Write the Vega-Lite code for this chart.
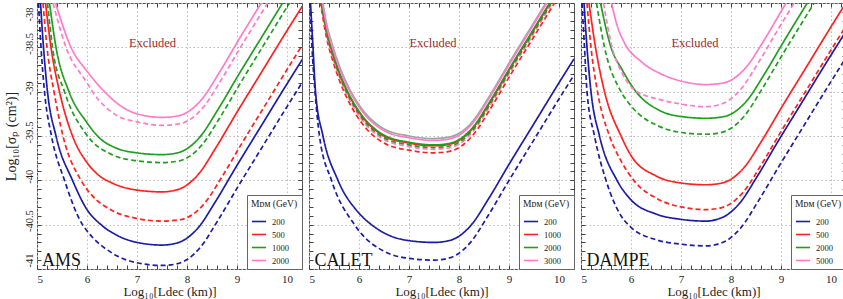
{
"$schema": "https://vega.github.io/schema/vega-lite/v6.json",
"padding": {"left": 3, "top": 2, "right": 0, "bottom": 0},
"background": "white",
"config": {
  "font": "Liberation Serif",
  "view": {"stroke": "#555", "strokeWidth": 1},
  "concat": {"spacing": 5},
  "axis": {"domain": false, "tickSize": -4, "tickColor": "#444", "labelFont": "Liberation Serif", "labelFontSize": 11, "labelColor": "#222", "titleFont": "Liberation Serif", "titleFontWeight": "normal", "titleColor": "#222", "gridColor": "#bbb", "gridDash": [1.5, 2.5], "labelOverlap": false, "minExtent": 0},
  "legend": {"orient": "bottom-right", "offset": 0, "padding": 4, "strokeColor": "#666", "fillColor": "white", "symbolType": "stroke", "symbolSize": 200, "symbolStrokeWidth": 1.6, "labelFont": "Liberation Serif", "labelFontSize": 8.5, "labelColor": "#222", "titleFont": "Liberation Serif", "titleFontSize": 9.5, "titleFontWeight": "normal", "titleColor": "#222", "titlePadding": 5, "rowPadding": 0, "labelOffset": 5}
},
"datasets": {
"ams": [
{"m":"200","d":"s","x":5.07,"y":-38},{"m":"200","d":"s","x":5.13,"y":-38.5},{"m":"200","d":"s","x":5.21,"y":-39},{"m":"200","d":"s","x":5.38,"y":-39.5},{"m":"200","d":"s","x":5.71,"y":-40},{"m":"200","d":"s","x":6,"y":-40.33},{"m":"200","d":"s","x":6.28,"y":-40.5},{"m":"200","d":"s","x":6.6,"y":-40.62},{"m":"200","d":"s","x":7,"y":-40.7},{"m":"200","d":"s","x":7.5,"y":-40.73},{"m":"200","d":"s","x":7.78,"y":-40.71},{"m":"200","d":"s","x":7.98,"y":-40.66},{"m":"200","d":"s","x":8.23,"y":-40.53},{"m":"200","d":"s","x":8.58,"y":-40.23},{"m":"200","d":"s","x":8.98,"y":-39.85},{"m":"200","d":"s","x":9.48,"y":-39.39},{"m":"200","d":"s","x":9.98,"y":-38.93},{"m":"200","d":"s","x":10.28,"y":-38.66},{"m":"200","d":"s","x":10.58,"y":-38.39},
{"m":"200","d":"d","x":5.03,"y":-38},{"m":"200","d":"d","x":5.08,"y":-38.5},{"m":"200","d":"d","x":5.15,"y":-39},{"m":"200","d":"d","x":5.29,"y":-39.5},{"m":"200","d":"d","x":5.55,"y":-40},{"m":"200","d":"d","x":5.91,"y":-40.5},{"m":"200","d":"d","x":6,"y":-40.57},{"m":"200","d":"d","x":6.5,"y":-40.82},{"m":"200","d":"d","x":7,"y":-40.93},{"m":"200","d":"d","x":7.5,"y":-40.96},{"m":"200","d":"d","x":7.81,"y":-40.94},{"m":"200","d":"d","x":8.01,"y":-40.89},{"m":"200","d":"d","x":8.26,"y":-40.76},{"m":"200","d":"d","x":8.61,"y":-40.46},{"m":"200","d":"d","x":9.01,"y":-40.08},{"m":"200","d":"d","x":9.51,"y":-39.62},{"m":"200","d":"d","x":10.01,"y":-39.16},{"m":"200","d":"d","x":10.31,"y":-38.89},
{"m":"500","d":"s","x":5.17,"y":-38},{"m":"500","d":"s","x":5.28,"y":-38.5},{"m":"500","d":"s","x":5.45,"y":-39},{"m":"500","d":"s","x":5.71,"y":-39.5},{"m":"500","d":"s","x":6,"y":-39.8},{"m":"500","d":"s","x":6.25,"y":-39.95},{"m":"500","d":"s","x":6.5,"y":-40.03},{"m":"500","d":"s","x":7,"y":-40.11},{"m":"500","d":"s","x":7.5,"y":-40.13},{"m":"500","d":"s","x":7.78,"y":-40.11},{"m":"500","d":"s","x":7.98,"y":-40.06},{"m":"500","d":"s","x":8.23,"y":-39.93},{"m":"500","d":"s","x":8.58,"y":-39.63},{"m":"500","d":"s","x":8.98,"y":-39.25},{"m":"500","d":"s","x":9.48,"y":-38.79},{"m":"500","d":"s","x":9.98,"y":-38.33},{"m":"500","d":"s","x":10.28,"y":-38.06},{"m":"500","d":"s","x":10.58,"y":-37.79},
{"m":"500","d":"d","x":5.12,"y":-38},{"m":"500","d":"d","x":5.2,"y":-38.5},{"m":"500","d":"d","x":5.34,"y":-39},{"m":"500","d":"d","x":5.52,"y":-39.5},{"m":"500","d":"d","x":5.88,"y":-40},{"m":"500","d":"d","x":6.1,"y":-40.17},{"m":"500","d":"d","x":6.5,"y":-40.34},{"m":"500","d":"d","x":7,"y":-40.43},{"m":"500","d":"d","x":7.5,"y":-40.46},{"m":"500","d":"d","x":7.9,"y":-40.44},{"m":"500","d":"d","x":8.1,"y":-40.39},{"m":"500","d":"d","x":8.35,"y":-40.26},{"m":"500","d":"d","x":8.7,"y":-39.96},{"m":"500","d":"d","x":9.1,"y":-39.58},{"m":"500","d":"d","x":9.6,"y":-39.12},{"m":"500","d":"d","x":10.1,"y":-38.66},{"m":"500","d":"d","x":10.4,"y":-38.39},
{"m":"1000","d":"s","x":5.25,"y":-38},{"m":"1000","d":"s","x":5.38,"y":-38.5},{"m":"1000","d":"s","x":5.64,"y":-39},{"m":"1000","d":"s","x":6,"y":-39.35},{"m":"1000","d":"s","x":6.21,"y":-39.5},{"m":"1000","d":"s","x":6.6,"y":-39.64},{"m":"1000","d":"s","x":7,"y":-39.69},{"m":"1000","d":"s","x":7.5,"y":-39.71},{"m":"1000","d":"s","x":7.81,"y":-39.69},{"m":"1000","d":"s","x":8.01,"y":-39.64},{"m":"1000","d":"s","x":8.26,"y":-39.51},{"m":"1000","d":"s","x":8.61,"y":-39.21},{"m":"1000","d":"s","x":9.01,"y":-38.83},{"m":"1000","d":"s","x":9.51,"y":-38.37},{"m":"1000","d":"s","x":10.01,"y":-37.91},
{"m":"1000","d":"d","x":5.21,"y":-38},{"m":"1000","d":"d","x":5.31,"y":-38.5},{"m":"1000","d":"d","x":5.55,"y":-39},{"m":"1000","d":"d","x":6.01,"y":-39.5},{"m":"1000","d":"d","x":6.5,"y":-39.71},{"m":"1000","d":"d","x":7,"y":-39.78},{"m":"1000","d":"d","x":7.5,"y":-39.8},{"m":"1000","d":"d","x":7.85,"y":-39.78},{"m":"1000","d":"d","x":8.05,"y":-39.73},{"m":"1000","d":"d","x":8.3,"y":-39.6},{"m":"1000","d":"d","x":8.65,"y":-39.3},{"m":"1000","d":"d","x":9.05,"y":-38.92},{"m":"1000","d":"d","x":9.55,"y":-38.46},{"m":"1000","d":"d","x":10.05,"y":-38},{"m":"1000","d":"d","x":10.35,"y":-37.73},
{"m":"2000","d":"s","x":5.37,"y":-38},{"m":"2000","d":"s","x":5.68,"y":-38.5},{"m":"2000","d":"s","x":6,"y":-38.77},{"m":"2000","d":"s","x":6.35,"y":-39},{"m":"2000","d":"s","x":6.6,"y":-39.13},{"m":"2000","d":"s","x":7,"y":-39.25},{"m":"2000","d":"s","x":7.5,"y":-39.29},{"m":"2000","d":"s","x":7.84,"y":-39.27},{"m":"2000","d":"s","x":8.04,"y":-39.22},{"m":"2000","d":"s","x":8.29,"y":-39.09},{"m":"2000","d":"s","x":8.64,"y":-38.79},{"m":"2000","d":"s","x":9.04,"y":-38.41},{"m":"2000","d":"s","x":9.54,"y":-37.95},
{"m":"2000","d":"d","x":5.32,"y":-38},{"m":"2000","d":"d","x":5.58,"y":-38.5},{"m":"2000","d":"d","x":6,"y":-38.9},{"m":"2000","d":"d","x":6.11,"y":-39},{"m":"2000","d":"d","x":6.6,"y":-39.27},{"m":"2000","d":"d","x":7,"y":-39.34},{"m":"2000","d":"d","x":7.5,"y":-39.38},{"m":"2000","d":"d","x":7.87,"y":-39.36},{"m":"2000","d":"d","x":8.07,"y":-39.31},{"m":"2000","d":"d","x":8.32,"y":-39.18},{"m":"2000","d":"d","x":8.67,"y":-38.88},{"m":"2000","d":"d","x":9.07,"y":-38.5},{"m":"2000","d":"d","x":9.57,"y":-38.04},{"m":"2000","d":"d","x":10.07,"y":-37.58}
],
"calet": [
{"m":"200","d":"s","x":5.03,"y":-38},{"m":"200","d":"s","x":5.08,"y":-38.5},{"m":"200","d":"s","x":5.13,"y":-39},{"m":"200","d":"s","x":5.28,"y":-39.5},{"m":"200","d":"s","x":5.58,"y":-40},{"m":"200","d":"s","x":6,"y":-40.37},{"m":"200","d":"s","x":6.25,"y":-40.5},{"m":"200","d":"s","x":6.6,"y":-40.62},{"m":"200","d":"s","x":7,"y":-40.68},{"m":"200","d":"s","x":7.5,"y":-40.7},{"m":"200","d":"s","x":7.8,"y":-40.68},{"m":"200","d":"s","x":8,"y":-40.63},{"m":"200","d":"s","x":8.25,"y":-40.5},{"m":"200","d":"s","x":8.6,"y":-40.2},{"m":"200","d":"s","x":9,"y":-39.82},{"m":"200","d":"s","x":9.5,"y":-39.36},{"m":"200","d":"s","x":10,"y":-38.9},{"m":"200","d":"s","x":10.3,"y":-38.63},
{"m":"200","d":"d","x":5.02,"y":-38},{"m":"200","d":"d","x":5.06,"y":-38.5},{"m":"200","d":"d","x":5.12,"y":-39},{"m":"200","d":"d","x":5.21,"y":-39.5},{"m":"200","d":"d","x":5.45,"y":-40},{"m":"200","d":"d","x":5.91,"y":-40.5},{"m":"200","d":"d","x":6,"y":-40.57},{"m":"200","d":"d","x":6.5,"y":-40.8},{"m":"200","d":"d","x":7,"y":-40.88},{"m":"200","d":"d","x":7.5,"y":-40.9},{"m":"200","d":"d","x":7.78,"y":-40.88},{"m":"200","d":"d","x":7.98,"y":-40.83},{"m":"200","d":"d","x":8.23,"y":-40.7},{"m":"200","d":"d","x":8.58,"y":-40.4},{"m":"200","d":"d","x":8.98,"y":-40.02},{"m":"200","d":"d","x":9.48,"y":-39.56},{"m":"200","d":"d","x":9.98,"y":-39.1},{"m":"200","d":"d","x":10.28,"y":-38.83},{"m":"200","d":"d","x":10.58,"y":-38.56},
{"m":"1000","d":"d","x":5.2,"y":-37.89},{"m":"1000","d":"d","x":5.27,"y":-38.14},{"m":"1000","d":"d","x":5.35,"y":-38.39},{"m":"1000","d":"d","x":5.47,"y":-38.64},{"m":"1000","d":"d","x":5.62,"y":-38.89},{"m":"1000","d":"d","x":5.82,"y":-39.14},{"m":"1000","d":"d","x":6,"y":-39.31},{"m":"1000","d":"d","x":6.5,"y":-39.58},{"m":"1000","d":"d","x":7,"y":-39.66},{"m":"1000","d":"d","x":7.5,"y":-39.69},{"m":"1000","d":"d","x":7.83,"y":-39.67},{"m":"1000","d":"d","x":8.03,"y":-39.62},{"m":"1000","d":"d","x":8.28,"y":-39.49},{"m":"1000","d":"d","x":8.63,"y":-39.19},{"m":"1000","d":"d","x":9.03,"y":-38.81},{"m":"1000","d":"d","x":9.53,"y":-38.35},{"m":"1000","d":"d","x":10.03,"y":-37.89},
{"m":"3000","d":"d","x":5.2,"y":-37.85},{"m":"3000","d":"d","x":5.27,"y":-38.1},{"m":"3000","d":"d","x":5.35,"y":-38.35},{"m":"3000","d":"d","x":5.47,"y":-38.6},{"m":"3000","d":"d","x":5.62,"y":-38.85},{"m":"3000","d":"d","x":5.82,"y":-39.1},{"m":"3000","d":"d","x":6,"y":-39.27},{"m":"3000","d":"d","x":6.5,"y":-39.54},{"m":"3000","d":"d","x":7,"y":-39.62},{"m":"3000","d":"d","x":7.5,"y":-39.65},{"m":"3000","d":"d","x":7.83,"y":-39.63},{"m":"3000","d":"d","x":8.03,"y":-39.58},{"m":"3000","d":"d","x":8.28,"y":-39.45},{"m":"3000","d":"d","x":8.63,"y":-39.15},{"m":"3000","d":"d","x":9.03,"y":-38.77},{"m":"3000","d":"d","x":9.53,"y":-38.31},{"m":"3000","d":"d","x":10.03,"y":-37.85},
{"m":"2000","d":"d","x":5.2,"y":-37.83},{"m":"2000","d":"d","x":5.27,"y":-38.08},{"m":"2000","d":"d","x":5.35,"y":-38.33},{"m":"2000","d":"d","x":5.47,"y":-38.58},{"m":"2000","d":"d","x":5.62,"y":-38.83},{"m":"2000","d":"d","x":5.82,"y":-39.08},{"m":"2000","d":"d","x":6,"y":-39.25},{"m":"2000","d":"d","x":6.5,"y":-39.52},{"m":"2000","d":"d","x":7,"y":-39.6},{"m":"2000","d":"d","x":7.5,"y":-39.63},{"m":"2000","d":"d","x":7.83,"y":-39.61},{"m":"2000","d":"d","x":8.03,"y":-39.56},{"m":"2000","d":"d","x":8.28,"y":-39.43},{"m":"2000","d":"d","x":8.63,"y":-39.13},{"m":"2000","d":"d","x":9.03,"y":-38.75},{"m":"2000","d":"d","x":9.53,"y":-38.29},{"m":"2000","d":"d","x":10.03,"y":-37.83},
{"m":"1000","d":"s","x":5.2,"y":-37.81},{"m":"1000","d":"s","x":5.27,"y":-38.06},{"m":"1000","d":"s","x":5.35,"y":-38.31},{"m":"1000","d":"s","x":5.47,"y":-38.56},{"m":"1000","d":"s","x":5.62,"y":-38.81},{"m":"1000","d":"s","x":5.82,"y":-39.06},{"m":"1000","d":"s","x":6,"y":-39.23},{"m":"1000","d":"s","x":6.5,"y":-39.5},{"m":"1000","d":"s","x":7,"y":-39.58},{"m":"1000","d":"s","x":7.5,"y":-39.61},{"m":"1000","d":"s","x":7.83,"y":-39.59},{"m":"1000","d":"s","x":8.03,"y":-39.54},{"m":"1000","d":"s","x":8.28,"y":-39.41},{"m":"1000","d":"s","x":8.63,"y":-39.11},{"m":"1000","d":"s","x":9.03,"y":-38.73},{"m":"1000","d":"s","x":9.53,"y":-38.27},{"m":"1000","d":"s","x":10.03,"y":-37.81},
{"m":"2000","d":"s","x":5.2,"y":-37.8},{"m":"2000","d":"s","x":5.27,"y":-38.05},{"m":"2000","d":"s","x":5.35,"y":-38.3},{"m":"2000","d":"s","x":5.47,"y":-38.55},{"m":"2000","d":"s","x":5.62,"y":-38.8},{"m":"2000","d":"s","x":5.82,"y":-39.05},{"m":"2000","d":"s","x":6,"y":-39.22},{"m":"2000","d":"s","x":6.5,"y":-39.49},{"m":"2000","d":"s","x":7,"y":-39.57},{"m":"2000","d":"s","x":7.5,"y":-39.6},{"m":"2000","d":"s","x":7.83,"y":-39.58},{"m":"2000","d":"s","x":8.03,"y":-39.53},{"m":"2000","d":"s","x":8.28,"y":-39.4},{"m":"2000","d":"s","x":8.63,"y":-39.1},{"m":"2000","d":"s","x":9.03,"y":-38.72},{"m":"2000","d":"s","x":9.53,"y":-38.26},{"m":"2000","d":"s","x":10.03,"y":-37.8},
{"m":"3000","d":"s","x":5.2,"y":-37.75},{"m":"3000","d":"s","x":5.27,"y":-38},{"m":"3000","d":"s","x":5.35,"y":-38.25},{"m":"3000","d":"s","x":5.47,"y":-38.5},{"m":"3000","d":"s","x":5.62,"y":-38.75},{"m":"3000","d":"s","x":5.82,"y":-39},{"m":"3000","d":"s","x":6,"y":-39.17},{"m":"3000","d":"s","x":6.5,"y":-39.44},{"m":"3000","d":"s","x":7,"y":-39.52},{"m":"3000","d":"s","x":7.5,"y":-39.55},{"m":"3000","d":"s","x":7.83,"y":-39.53},{"m":"3000","d":"s","x":8.03,"y":-39.48},{"m":"3000","d":"s","x":8.28,"y":-39.35},{"m":"3000","d":"s","x":8.63,"y":-39.05},{"m":"3000","d":"s","x":9.03,"y":-38.67},{"m":"3000","d":"s","x":9.53,"y":-38.21},{"m":"3000","d":"s","x":10.03,"y":-37.75}
],
"caletGray": [
{"x":5.2,"y":-37.73},{"x":5.27,"y":-37.98},{"x":5.35,"y":-38.23},{"x":5.47,"y":-38.48},{"x":5.62,"y":-38.73},{"x":5.82,"y":-38.98},{"x":6,"y":-39.15},{"x":6.5,"y":-39.42},{"x":7,"y":-39.5},{"x":7.5,"y":-39.53},{"x":7.83,"y":-39.51},{"x":8.03,"y":-39.46},{"x":8.28,"y":-39.33},{"x":8.63,"y":-39.03},{"x":9.03,"y":-38.65},{"x":9.53,"y":-38.19},{"x":10.03,"y":-37.73}
],
"dampe": [
{"m":"200","d":"s","x":5.06,"y":-38},{"m":"200","d":"s","x":5.12,"y":-38.5},{"m":"200","d":"s","x":5.2,"y":-39},{"m":"200","d":"s","x":5.37,"y":-39.5},{"m":"200","d":"s","x":5.72,"y":-40},{"m":"200","d":"s","x":6,"y":-40.22},{"m":"200","d":"s","x":6.5,"y":-40.38},{"m":"200","d":"s","x":7,"y":-40.44},{"m":"200","d":"s","x":7.5,"y":-40.46},{"m":"200","d":"s","x":7.72,"y":-40.44},{"m":"200","d":"s","x":7.92,"y":-40.39},{"m":"200","d":"s","x":8.17,"y":-40.26},{"m":"200","d":"s","x":8.52,"y":-39.96},{"m":"200","d":"s","x":8.92,"y":-39.58},{"m":"200","d":"s","x":9.42,"y":-39.12},{"m":"200","d":"s","x":9.92,"y":-38.66},{"m":"200","d":"s","x":10.22,"y":-38.39},{"m":"200","d":"s","x":10.52,"y":-38.12},
{"m":"200","d":"d","x":5.02,"y":-38},{"m":"200","d":"d","x":5.07,"y":-38.5},{"m":"200","d":"d","x":5.12,"y":-39},{"m":"200","d":"d","x":5.27,"y":-39.5},{"m":"200","d":"d","x":5.5,"y":-40},{"m":"200","d":"d","x":5.8,"y":-40.4},{"m":"200","d":"d","x":6,"y":-40.53},{"m":"200","d":"d","x":6.5,"y":-40.67},{"m":"200","d":"d","x":7,"y":-40.72},{"m":"200","d":"d","x":7.5,"y":-40.74},{"m":"200","d":"d","x":7.74,"y":-40.72},{"m":"200","d":"d","x":7.94,"y":-40.67},{"m":"200","d":"d","x":8.19,"y":-40.54},{"m":"200","d":"d","x":8.54,"y":-40.24},{"m":"200","d":"d","x":8.94,"y":-39.86},{"m":"200","d":"d","x":9.44,"y":-39.4},{"m":"200","d":"d","x":9.94,"y":-38.94},{"m":"200","d":"d","x":10.24,"y":-38.67},{"m":"200","d":"d","x":10.54,"y":-38.4},
{"m":"500","d":"s","x":5.16,"y":-38},{"m":"500","d":"s","x":5.29,"y":-38.5},{"m":"500","d":"s","x":5.47,"y":-39},{"m":"500","d":"s","x":5.8,"y":-39.5},{"m":"500","d":"s","x":6,"y":-39.72},{"m":"500","d":"s","x":6.5,"y":-39.95},{"m":"500","d":"s","x":7,"y":-40.03},{"m":"500","d":"s","x":7.5,"y":-40.05},{"m":"500","d":"s","x":7.82,"y":-40.03},{"m":"500","d":"s","x":8.02,"y":-39.98},{"m":"500","d":"s","x":8.27,"y":-39.85},{"m":"500","d":"s","x":8.62,"y":-39.55},{"m":"500","d":"s","x":9.02,"y":-39.17},{"m":"500","d":"s","x":9.52,"y":-38.71},{"m":"500","d":"s","x":10.02,"y":-38.25},{"m":"500","d":"s","x":10.32,"y":-37.98},
{"m":"500","d":"d","x":5.12,"y":-38},{"m":"500","d":"d","x":5.2,"y":-38.5},{"m":"500","d":"d","x":5.33,"y":-39},{"m":"500","d":"d","x":5.57,"y":-39.5},{"m":"500","d":"d","x":5.8,"y":-39.78},{"m":"500","d":"d","x":6.1,"y":-40.03},{"m":"500","d":"d","x":6.5,"y":-40.2},{"m":"500","d":"d","x":7,"y":-40.3},{"m":"500","d":"d","x":7.5,"y":-40.33},{"m":"500","d":"d","x":7.8,"y":-40.31},{"m":"500","d":"d","x":8,"y":-40.26},{"m":"500","d":"d","x":8.25,"y":-40.13},{"m":"500","d":"d","x":8.6,"y":-39.83},{"m":"500","d":"d","x":9,"y":-39.45},{"m":"500","d":"d","x":9.5,"y":-38.99},{"m":"500","d":"d","x":10,"y":-38.53},{"m":"500","d":"d","x":10.3,"y":-38.26},
{"m":"2000","d":"s","x":5.39,"y":-38},{"m":"2000","d":"s","x":5.6,"y":-38.5},{"m":"2000","d":"s","x":5.82,"y":-38.75},{"m":"2000","d":"s","x":6.1,"y":-39},{"m":"2000","d":"s","x":6.6,"y":-39.22},{"m":"2000","d":"s","x":7,"y":-39.28},{"m":"2000","d":"s","x":7.5,"y":-39.3},{"m":"2000","d":"s","x":7.87,"y":-39.28},{"m":"2000","d":"s","x":8.07,"y":-39.23},{"m":"2000","d":"s","x":8.32,"y":-39.1},{"m":"2000","d":"s","x":8.67,"y":-38.8},{"m":"2000","d":"s","x":9.07,"y":-38.42},{"m":"2000","d":"s","x":9.57,"y":-37.96},
{"m":"2000","d":"d","x":5.31,"y":-38},{"m":"2000","d":"d","x":5.47,"y":-38.5},{"m":"2000","d":"d","x":5.8,"y":-39},{"m":"2000","d":"d","x":6,"y":-39.16},{"m":"2000","d":"d","x":6.6,"y":-39.4},{"m":"2000","d":"d","x":7,"y":-39.46},{"m":"2000","d":"d","x":7.5,"y":-39.48},{"m":"2000","d":"d","x":7.81,"y":-39.46},{"m":"2000","d":"d","x":8.01,"y":-39.41},{"m":"2000","d":"d","x":8.26,"y":-39.28},{"m":"2000","d":"d","x":8.61,"y":-38.98},{"m":"2000","d":"d","x":9.01,"y":-38.6},{"m":"2000","d":"d","x":9.51,"y":-38.14},{"m":"2000","d":"d","x":10.01,"y":-37.68},
{"m":"5000","d":"s","x":5.61,"y":-38},{"m":"5000","d":"s","x":5.72,"y":-38.25},{"m":"5000","d":"s","x":5.87,"y":-38.45},{"m":"5000","d":"s","x":6.2,"y":-38.66},{"m":"5000","d":"s","x":6.6,"y":-38.8},{"m":"5000","d":"s","x":7,"y":-38.88},{"m":"5000","d":"s","x":7.5,"y":-38.92},{"m":"5000","d":"s","x":7.86,"y":-38.9},{"m":"5000","d":"s","x":8.06,"y":-38.85},{"m":"5000","d":"s","x":8.31,"y":-38.72},{"m":"5000","d":"s","x":8.66,"y":-38.42},{"m":"5000","d":"s","x":9.06,"y":-38.04},{"m":"5000","d":"s","x":9.56,"y":-37.58},
{"m":"5000","d":"d","x":5.45,"y":-38},{"m":"5000","d":"d","x":5.6,"y":-38.45},{"m":"5000","d":"d","x":5.85,"y":-38.82},{"m":"5000","d":"d","x":6.07,"y":-38.98},{"m":"5000","d":"d","x":6.58,"y":-39.09},{"m":"5000","d":"d","x":7,"y":-39.14},{"m":"5000","d":"d","x":7.5,"y":-39.17},{"m":"5000","d":"d","x":7.75,"y":-39.15},{"m":"5000","d":"d","x":7.95,"y":-39.1},{"m":"5000","d":"d","x":8.2,"y":-38.97},{"m":"5000","d":"d","x":8.55,"y":-38.67},{"m":"5000","d":"d","x":8.95,"y":-38.29},{"m":"5000","d":"d","x":9.45,"y":-37.83}
]
},
"resolve": {"scale": {"color": "independent", "strokeDash": "independent"}},
"hconcat": [
{
 "width": 265, "height": 266,
 "resolve": {"axis": {"x": "independent", "y": "independent"}},
 "layer": [
  {
   "data": {"name": "ams"},
   "mark": {"type": "line", "interpolate": "monotone", "clip": true, "strokeWidth": 1.7},
   "encoding": {
    "x": {"field": "x", "type": "quantitative", "scale": {"domain": [5, 10.3], "nice": false, "zero": false},
      "axis": {"values": [5,5.2,5.4,5.6,5.8,6,6.2,6.4,6.6,6.8,7,7.2,7.4,7.6,7.8,8,8.2,8.4,8.6,8.8,9,9.2,9.4,9.6,9.8,10,10.2], "labelExpr": "datum.value % 1 === 0 ? '' + datum.value : ''", "labelFlush": true, "labelPadding": 8, "grid": true, "gridOpacity": {"condition": {"test": "datum.value % 1 === 0", "value": 1}, "value": 0}, "title": "Log₁₀[Ldec (km)]", "titleFontSize": 13, "titlePadding": 1}},
    "y": {"field": "y", "type": "quantitative", "scale": {"domain": [-41, -38], "nice": false, "zero": false},
      "axis": {"values": [-41,-40.9,-40.8,-40.7,-40.6,-40.5,-40.4,-40.3,-40.2,-40.1,-40,-39.9,-39.8,-39.7,-39.6,-39.5,-39.4,-39.3,-39.2,-39.1,-39,-38.9,-38.8,-38.7,-38.6,-38.5,-38.4,-38.3,-38.2,-38.1,-38], "labelExpr": "abs(datum.value*2 - round(datum.value*2)) < 0.001 ? '' + datum.value : ''", "labelAngle": -90, "labelFlush": false, "labelOffset": {"condition": [{"test": "datum.value === -38", "value": 11}, {"test": "datum.value === -41", "value": -9}], "value": -4}, "labelPadding": 7, "labelFontSize": 10.5, "grid": true, "gridOpacity": {"condition": {"test": "abs(datum.value*2 - round(datum.value*2)) < 0.001", "value": 1}, "value": 0}, "title": "Log₁₀[σₚ (cm²)]", "titleFontSize": 14, "titlePadding": 6}},
    "color": {"field": "m", "type": "nominal", "scale": {"domain": ["200","500","1000","2000"], "range": ["#1c1ca6","#ff2020","#1f9e1f","#ff7acb"]}, "legend": {"title": "Mᴅᴍ (GeV)"}},
    "strokeDash": {"field": "d", "type": "nominal", "scale": {"domain": ["s","d"], "range": [[1,0],[5,3]]}, "legend": null}
   }
  },
  {
   "data": {"values": [{"x": 7.31, "y": -38.45, "t": "Excluded"}]},
   "mark": {"type": "text", "fontSize": 12.5, "color": "#9e2a2b"},
   "encoding": {
    "x": {"field": "x", "type": "quantitative", "scale": {"domain": [5, 10.3], "nice": false, "zero": false}, "axis": {"orient": "top", "labels": false, "title": null, "grid": false, "maxExtent": 0, "values": [5,5.2,5.4,5.6,5.8,6,6.2,6.4,6.6,6.8,7,7.2,7.4,7.6,7.8,8,8.2,8.4,8.6,8.8,9,9.2,9.4,9.6,9.8,10,10.2]}},
    "y": {"field": "y", "type": "quantitative", "scale": {"domain": [-41, -38], "nice": false, "zero": false}, "axis": {"orient": "right", "labels": false, "title": null, "grid": false, "maxExtent": 0, "values": [-41,-40.9,-40.8,-40.7,-40.6,-40.5,-40.4,-40.3,-40.2,-40.1,-40,-39.9,-39.8,-39.7,-39.6,-39.5,-39.4,-39.3,-39.2,-39.1,-39,-38.9,-38.8,-38.7,-38.6,-38.5,-38.4,-38.3,-38.2,-38.1,-38]}},
    "text": {"field": "t"}
   }
  },
  {
   "data": {"values": [{"x": 5.1, "y": -40.965, "t": "AMS"}]},
   "mark": {"type": "text", "fontSize": 18, "align": "left", "baseline": "alphabetic", "color": "#111"},
   "encoding": {
    "x": {"field": "x", "type": "quantitative", "scale": {"domain": [5, 10.3], "nice": false, "zero": false}, "axis": null},
    "y": {"field": "y", "type": "quantitative", "scale": {"domain": [-41, -38], "nice": false, "zero": false}, "axis": null},
    "text": {"field": "t"}
   }
  }
 ]
},
{
 "width": 265, "height": 266,
 "resolve": {"axis": {"x": "independent", "y": "independent"}},
 "layer": [
  {
   "data": {"name": "caletGray"},
   "mark": {"type": "line", "interpolate": "monotone", "clip": true, "strokeWidth": 1.7, "color": "#9aa89a"},
   "encoding": {
    "x": {"field": "x", "type": "quantitative", "scale": {"domain": [5, 10.3], "nice": false, "zero": false},
      "axis": {"values": [5,5.2,5.4,5.6,5.8,6,6.2,6.4,6.6,6.8,7,7.2,7.4,7.6,7.8,8,8.2,8.4,8.6,8.8,9,9.2,9.4,9.6,9.8,10,10.2], "labelExpr": "datum.value % 1 === 0 ? '' + datum.value : ''", "labelFlush": true, "labelPadding": 8, "grid": true, "gridOpacity": {"condition": {"test": "datum.value % 1 === 0", "value": 1}, "value": 0}, "title": "Log₁₀[Ldec (km)]", "titleFontSize": 13, "titlePadding": 1}},
    "y": {"field": "y", "type": "quantitative", "scale": {"domain": [-41, -38], "nice": false, "zero": false},
      "axis": {"values": [-41,-40.9,-40.8,-40.7,-40.6,-40.5,-40.4,-40.3,-40.2,-40.1,-40,-39.9,-39.8,-39.7,-39.6,-39.5,-39.4,-39.3,-39.2,-39.1,-39,-38.9,-38.8,-38.7,-38.6,-38.5,-38.4,-38.3,-38.2,-38.1,-38], "labels": false, "title": null, "maxExtent": 0, "grid": true, "gridOpacity": {"condition": {"test": "abs(datum.value*2 - round(datum.value*2)) < 0.001", "value": 1}, "value": 0}}}
   }
  },
  {
   "data": {"name": "calet"},
   "mark": {"type": "line", "interpolate": "monotone", "clip": true, "strokeWidth": 1.7},
   "encoding": {
    "x": {"field": "x", "type": "quantitative", "scale": {"domain": [5, 10.3], "nice": false, "zero": false}, "axis": null},
    "y": {"field": "y", "type": "quantitative", "scale": {"domain": [-41, -38], "nice": false, "zero": false}, "axis": null},
    "color": {"field": "m", "type": "nominal", "scale": {"domain": ["200","1000","2000","3000"], "range": ["#1c1ca6","#ff2020","#1f9e1f","#ff7acb"]}, "legend": {"title": "Mᴅᴍ (GeV)"}},
    "strokeDash": {"field": "d", "type": "nominal", "scale": {"domain": ["s","d"], "range": [[1,0],[5,3]]}, "legend": null}
   }
  },
  {
   "data": {"values": [{"x": 7.48, "y": -38.45, "t": "Excluded"}]},
   "mark": {"type": "text", "fontSize": 12.5, "color": "#9e2a2b"},
   "encoding": {
    "x": {"field": "x", "type": "quantitative", "scale": {"domain": [5, 10.3], "nice": false, "zero": false}, "axis": {"orient": "top", "labels": false, "title": null, "grid": false, "maxExtent": 0, "values": [5,5.2,5.4,5.6,5.8,6,6.2,6.4,6.6,6.8,7,7.2,7.4,7.6,7.8,8,8.2,8.4,8.6,8.8,9,9.2,9.4,9.6,9.8,10,10.2]}},
    "y": {"field": "y", "type": "quantitative", "scale": {"domain": [-41, -38], "nice": false, "zero": false}, "axis": {"orient": "right", "labels": false, "title": null, "grid": false, "maxExtent": 0, "values": [-41,-40.9,-40.8,-40.7,-40.6,-40.5,-40.4,-40.3,-40.2,-40.1,-40,-39.9,-39.8,-39.7,-39.6,-39.5,-39.4,-39.3,-39.2,-39.1,-39,-38.9,-38.8,-38.7,-38.6,-38.5,-38.4,-38.3,-38.2,-38.1,-38]}},
    "text": {"field": "t"}
   }
  },
  {
   "data": {"values": [{"x": 5.11, "y": -40.965, "t": "CALET"}]},
   "mark": {"type": "text", "fontSize": 18, "align": "left", "baseline": "alphabetic", "color": "#111"},
   "encoding": {
    "x": {"field": "x", "type": "quantitative", "scale": {"domain": [5, 10.3], "nice": false, "zero": false}, "axis": null},
    "y": {"field": "y", "type": "quantitative", "scale": {"domain": [-41, -38], "nice": false, "zero": false}, "axis": null},
    "text": {"field": "t"}
   }
  }
 ]
},
{
 "width": 265, "height": 266,
 "resolve": {"axis": {"x": "independent", "y": "independent"}},
 "layer": [
  {
   "data": {"name": "dampe"},
   "mark": {"type": "line", "interpolate": "monotone", "clip": true, "strokeWidth": 1.7},
   "encoding": {
    "x": {"field": "x", "type": "quantitative", "scale": {"domain": [5, 10.3], "nice": false, "zero": false},
      "axis": {"values": [5,5.2,5.4,5.6,5.8,6,6.2,6.4,6.6,6.8,7,7.2,7.4,7.6,7.8,8,8.2,8.4,8.6,8.8,9,9.2,9.4,9.6,9.8,10,10.2], "labelExpr": "datum.value % 1 === 0 ? '' + datum.value : ''", "labelFlush": true, "labelPadding": 8, "grid": true, "gridOpacity": {"condition": {"test": "datum.value % 1 === 0", "value": 1}, "value": 0}, "title": "Log₁₀[Ldec (km)]", "titleFontSize": 13, "titlePadding": 1}},
    "y": {"field": "y", "type": "quantitative", "scale": {"domain": [-41, -38], "nice": false, "zero": false},
      "axis": {"values": [-41,-40.9,-40.8,-40.7,-40.6,-40.5,-40.4,-40.3,-40.2,-40.1,-40,-39.9,-39.8,-39.7,-39.6,-39.5,-39.4,-39.3,-39.2,-39.1,-39,-38.9,-38.8,-38.7,-38.6,-38.5,-38.4,-38.3,-38.2,-38.1,-38], "labels": false, "title": null, "maxExtent": 0, "grid": true, "gridOpacity": {"condition": {"test": "abs(datum.value*2 - round(datum.value*2)) < 0.001", "value": 1}, "value": 0}}},
    "color": {"field": "m", "type": "nominal", "scale": {"domain": ["200","500","2000","5000"], "range": ["#1c1ca6","#ff2020","#1f9e1f","#ff7acb"]}, "legend": {"title": "Mᴅᴍ (GeV)"}},
    "strokeDash": {"field": "d", "type": "nominal", "scale": {"domain": ["s","d"], "range": [[1,0],[5,3]]}, "legend": null}
   }
  },
  {
   "data": {"values": [{"x": 7.28, "y": -38.45, "t": "Excluded"}]},
   "mark": {"type": "text", "fontSize": 12.5, "color": "#9e2a2b"},
   "encoding": {
    "x": {"field": "x", "type": "quantitative", "scale": {"domain": [5, 10.3], "nice": false, "zero": false}, "axis": {"orient": "top", "labels": false, "title": null, "grid": false, "maxExtent": 0, "values": [5,5.2,5.4,5.6,5.8,6,6.2,6.4,6.6,6.8,7,7.2,7.4,7.6,7.8,8,8.2,8.4,8.6,8.8,9,9.2,9.4,9.6,9.8,10,10.2]}},
    "y": {"field": "y", "type": "quantitative", "scale": {"domain": [-41, -38], "nice": false, "zero": false}, "axis": {"orient": "right", "labels": false, "title": null, "grid": false, "maxExtent": 0, "values": [-41,-40.9,-40.8,-40.7,-40.6,-40.5,-40.4,-40.3,-40.2,-40.1,-40,-39.9,-39.8,-39.7,-39.6,-39.5,-39.4,-39.3,-39.2,-39.1,-39,-38.9,-38.8,-38.7,-38.6,-38.5,-38.4,-38.3,-38.2,-38.1,-38]}},
    "text": {"field": "t"}
   }
  },
  {
   "data": {"values": [{"x": 5.11, "y": -40.965, "t": "DAMPE"}]},
   "mark": {"type": "text", "fontSize": 18, "align": "left", "baseline": "alphabetic", "color": "#111"},
   "encoding": {
    "x": {"field": "x", "type": "quantitative", "scale": {"domain": [5, 10.3], "nice": false, "zero": false}, "axis": null},
    "y": {"field": "y", "type": "quantitative", "scale": {"domain": [-41, -38], "nice": false, "zero": false}, "axis": null},
    "text": {"field": "t"}
   }
  }
 ]
}
]
}
